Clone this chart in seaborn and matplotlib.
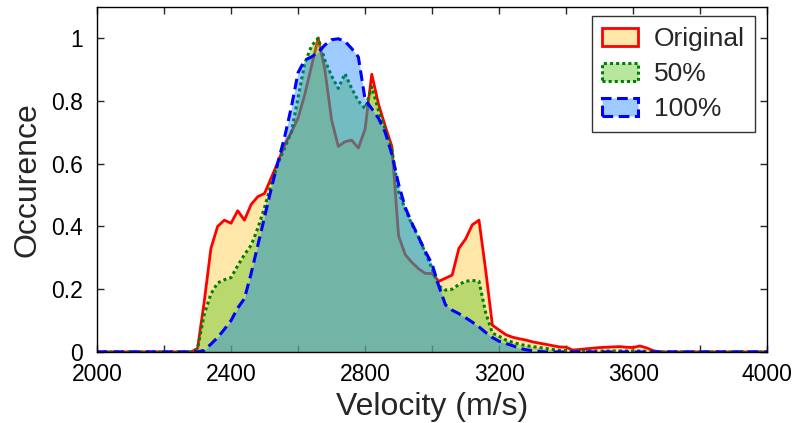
#!/usr/bin/env python3
"""Velocity occurrence distributions: original vs 50% and 100%."""

import matplotlib

matplotlib.use("Agg")

import matplotlib.pyplot as plt
import matplotlib.patches as mpatches
from matplotlib.colors import to_rgba
from matplotlib.ticker import FuncFormatter, MultipleLocator
import pandas as pd
import seaborn as sns


# velocity grid (m/s); outside 2280-3700 every series is zero
velocity = [2000] + list(range(2280, 3720, 20)) + [4000]

original = [
    0.0,
    0.0, 0.01, 0.16, 0.33, 0.40, 0.42, 0.41, 0.45, 0.42, 0.47,
    0.495, 0.505, 0.555, 0.605, 0.66, 0.70, 0.745, 0.82, 0.91, 1.0,
    0.90, 0.74, 0.655, 0.67, 0.675, 0.65, 0.71, 0.885, 0.79, 0.72,
    0.655, 0.37, 0.31, 0.285, 0.265, 0.25, 0.25, 0.225, 0.235, 0.245,
    0.33, 0.36, 0.405, 0.42, 0.26, 0.085, 0.07, 0.055, 0.047, 0.042,
    0.038, 0.032, 0.028, 0.024, 0.02, 0.016, 0.015, 0.006, 0.008, 0.01,
    0.012, 0.014, 0.015, 0.016, 0.017, 0.015, 0.014, 0.019, 0.013, 0.004,
    0.0, 0.0,
    0.0,
]
half = [
    0.0,
    0.0, 0.01, 0.12, 0.185, 0.22, 0.23, 0.237, 0.275, 0.31, 0.34,
    0.395, 0.46, 0.535, 0.60, 0.65, 0.70, 0.81, 0.92, 0.975, 1.0,
    0.93, 0.88, 0.84, 0.887, 0.84, 0.80, 0.775, 0.845, 0.77, 0.71,
    0.645, 0.51, 0.455, 0.405, 0.365, 0.315, 0.265, 0.21, 0.197, 0.20,
    0.215, 0.225, 0.228, 0.225, 0.125, 0.06, 0.05, 0.038, 0.031, 0.025,
    0.02, 0.017, 0.014, 0.011, 0.008, 0.005, 0.004, 0.003, 0.003, 0.003,
    0.003, 0.003, 0.003, 0.003, 0.003, 0.003, 0.003, 0.003, 0.002, 0.0,
    0.0, 0.0,
    0.0,
]
full = [
    0.0,
    0.0, 0.0, 0.005, 0.025, 0.046, 0.072, 0.10, 0.14, 0.17, 0.25,
    0.34, 0.43, 0.52, 0.605, 0.685, 0.78, 0.89, 0.93, 0.94, 0.955,
    0.978, 0.995, 0.998, 0.99, 0.967, 0.94, 0.805, 0.775, 0.745, 0.70,
    0.63, 0.535, 0.46, 0.41, 0.365, 0.32, 0.28, 0.21, 0.15, 0.133,
    0.122, 0.109, 0.095, 0.08, 0.062, 0.046, 0.034, 0.027, 0.02, 0.012,
    0.007, 0.004, 0.002, 0.0, 0.0, 0.0, 0.0, 0.0, 0.0, 0.0,
    0.0, 0.0, 0.0, 0.0, 0.0, 0.0, 0.0, 0.0, 0.0, 0.0,
    0.0, 0.0,
    0.0,
]

series_names = ["Original", "50%", "100%"]
x_ticks = [2000, 2400, 2800, 3200, 3600, 4000]
y_ticks = [0, 0.2, 0.4, 0.6, 0.8, 1.0]

# fill colour, fill alpha, edge colour, line style, line width
styles = {
    "Original": ("#FFC832", 0.42, "#FF0000", "-", 2.0),
    "50%": ("#64C828", 0.45, "#008000", (0, (1, 1)), 2.2),
    "100%": ("#0078FF", 0.38, "#0000FF", (0, (3.5, 1.8)), 2.2),
}


def main() -> int:
    sns.set_theme(style="ticks")
    plt.rcParams["font.family"] = ["Liberation Sans", "DejaVu Sans"]

    df = pd.DataFrame(
        {"velocity": velocity, "Original": original, "50%": half, "100%": full}
    )

    fig = plt.figure(figsize=(7.95, 4.23), dpi=100)
    ax = fig.add_axes([0.122, 0.168, 0.843, 0.816])

    handles = []
    for i, name in enumerate(series_names):
        face, alpha, edge, ls, lw = styles[name]
        # each series sits above the previous one, lines included
        ax.fill_between(df["velocity"], df[name], color=face, alpha=alpha,
                        linewidth=0, zorder=1 + i * 0.2)
        sns.lineplot(
            data=df, x="velocity", y=name, ax=ax, color=edge,
            linestyle=ls, linewidth=lw, estimator=None, sort=False,
            zorder=1.1 + i * 0.2,
        )
        handles.append(
            mpatches.Patch(
                facecolor=to_rgba(face, alpha), edgecolor=edge,
                linestyle=ls, linewidth=lw, label=name,
            )
        )

    ax.set_xlim(2000, 4000)
    ax.set_ylim(0, 1.1)
    ax.set_xticks(x_ticks)
    ax.xaxis.set_minor_locator(MultipleLocator(200))
    ax.set_yticks(y_ticks)
    ax.yaxis.set_major_formatter(FuncFormatter(lambda v, _: f"{v:g}"))
    ax.tick_params(which="both", direction="in", top=True, right=True,
                   length=5, width=1, colors="#262626", labelcolor="black")
    ax.tick_params(axis="x", labelsize=16.5, pad=8)
    ax.tick_params(axis="y", labelsize=16.5, pad=10)
    for spine in ax.spines.values():
        spine.set_visible(True)
        spine.set_linewidth(1.0)
        spine.set_color("black")

    ax.set_xlabel("Velocity (m/s)", fontsize=23, labelpad=4)
    ax.set_ylabel("Occurence", fontsize=23, labelpad=6)

    leg = ax.legend(
        handles=handles, loc="upper right", bbox_to_anchor=(0.982, 0.972),
        fontsize=19, frameon=True, fancybox=False, handlelength=1.35,
        handleheight=0.68, handletextpad=0.6, labelspacing=0.42,
        borderaxespad=0, borderpad=0.4,
    )
    leg.get_frame().set_edgecolor("black")
    leg.get_frame().set_linewidth(1.0)

    fig.savefig("out.png", dpi=100)
    plt.close(fig)
    return 0


if __name__ == "__main__":
    raise SystemExit(main())
